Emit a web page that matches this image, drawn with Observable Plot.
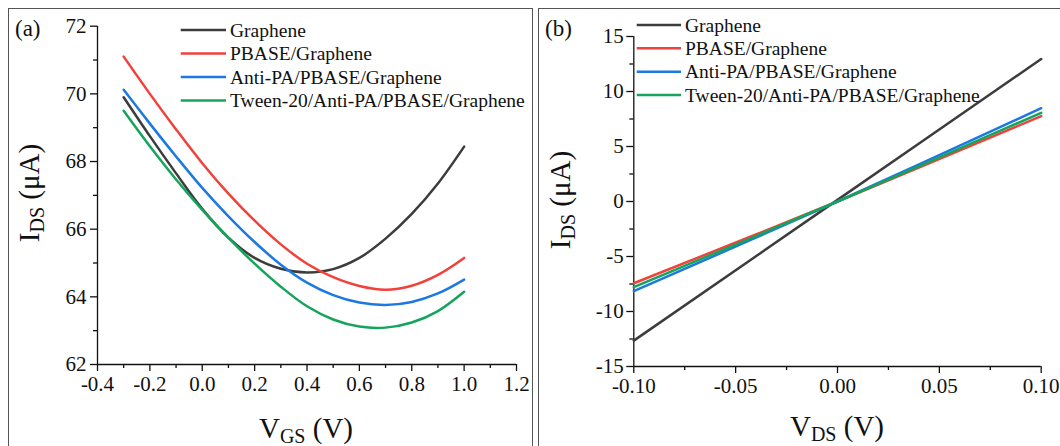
<!DOCTYPE html>
<html><head><meta charset="utf-8">
<script src="https://cdn.jsdelivr.net/npm/d3@7"></script>
<script src="https://cdn.jsdelivr.net/npm/@observablehq/plot@0.6"></script>
<style>
body{margin:0;background:#fff;width:1060px;height:446px;overflow:hidden;position:relative;}
.panel{position:absolute;top:0;width:530px;height:446px;}
.border{position:absolute;border:1.5px solid #555;box-sizing:border-box;}
.panel svg text{font-family:"Liberation Serif","Times New Roman",Times,serif;}
</style></head><body>
<div class="border" style="left:7.5px;top:8.25px;width:525px;height:460px"></div>
<div class="border" style="left:537.5px;top:8.25px;width:540px;height:460px"></div>
<div id="a" class="panel" style="left:0px"></div>
<div id="b" class="panel" style="left:530px"></div>
<script>
// ---- data ----
const seriesNames = ["Graphene", "PBASE/Graphene", "Anti-PA/PBASE/Graphene", "Tween-20/Anti-PA/PBASE/Graphene"];
const seriesColors = ["#3c3c3c", "#f2403b", "#1c79e2", "#14a45c"];

// panel (a): transfer curves, I_DS (µA) vs V_GS (V)
const vgs = [-0.3, -0.2, -0.1, 0.0, 0.1, 0.2, 0.3, 0.4, 0.5, 0.6, 0.7, 0.8, 0.9, 1.0];
const idsGrapheneA = [69.90, 68.75, 67.65, 66.60, 65.75, 65.15, 64.83, 64.72, 64.82, 65.15, 65.72, 66.45, 67.35, 68.44];
const idsPbaseA    = [71.10, 70.00, 68.95, 67.95, 67.05, 66.25, 65.55, 64.98, 64.58, 64.32, 64.21, 64.33, 64.65, 65.15];
const idsAntiA     = [70.12, 69.12, 68.15, 67.22, 66.38, 65.62, 64.95, 64.42, 64.05, 63.83, 63.76, 63.85, 64.10, 64.51];
const idsTweenA    = [69.50, 68.45, 67.47, 66.57, 65.74, 64.98, 64.30, 63.72, 63.33, 63.12, 63.09, 63.24, 63.58, 64.15];

// panel (b): output curves, I_DS (µA) vs V_DS (V)
const vds = [-0.1, 0.0, 0.1];
const idsGrapheneB = [-12.65, 0.15, 12.95];
const idsPbaseB    = [-7.43, 0.0, 7.76];
const idsAntiB     = [-8.15, 0.0, 8.48];
const idsTweenB    = [-7.79, 0.0, 8.06];

// ticks
const aXMajor = [-0.4, -0.2, 0.0, 0.2, 0.4, 0.6, 0.8, 1.0, 1.2];
const aXMinor = [-0.3, -0.1, 0.1, 0.3, 0.5, 0.7, 0.9, 1.1];
const aYMajor = [62, 64, 66, 68, 70, 72];
const aYMinor = [63, 65, 67, 69, 71];
const bXMajor = [-0.10, -0.05, 0.00, 0.05, 0.10];
const bXMinor = [-0.075, -0.025, 0.025, 0.075];
const bYMajor = [-15, -10, -5, 0, 5, 10, 15];
const bYMinor = [-12.5, -7.5, -2.5, 2.5, 7.5, 12.5];

// ---- build tables ----
function tidy(xs, ysList) {
  const out = [];
  ysList.forEach((ys, k) => ys.forEach((y, i) => out.push({series: seriesNames[k], x: xs[i], y})));
  return out;
}
const dataA = tidy(vgs, [idsGrapheneA, idsPbaseA, idsAntiA, idsTweenA]);
const dataB = tidy(vds, [idsGrapheneB, idsPbaseB, idsAntiB, idsTweenB]);

const FONT = '"Liberation Serif", "Times New Roman", Times, serif';
const INK = "#111";

function panel(opts) {
  const p = Plot.plot({
    width: 530, height: 446,
    marginLeft: opts.m[3], marginRight: opts.m[1], marginTop: opts.m[0], marginBottom: opts.m[2],
    style: {fontFamily: FONT, fontSize: "21px", color: INK, background: "transparent", overflow: "visible"},
    x: {domain: opts.xDomain},
    y: {domain: opts.yDomain},
    color: {domain: seriesNames, range: seriesColors},
    marks: [
      Plot.axisX({ticks: opts.xMajor, tickSize: 7, tickPadding: 5, tickFormat: opts.xFmt, label: null, fontSize: 21, fontFamily: FONT, strokeWidth: 1.3}),
      Plot.axisX({ticks: opts.xMinor, tickSize: 4, tickFormat: () => "", label: null, strokeWidth: 1.3}),
      Plot.axisY({ticks: opts.yMajor, tickSize: 7, tickPadding: opts.yPad, tickFormat: opts.yFmt, label: null, fontSize: 21, fontFamily: FONT, strokeWidth: 1.3}),
      Plot.axisY({ticks: opts.yMinor, tickSize: 4, tickFormat: () => "", label: null, strokeWidth: 1.3}),
      Plot.ruleX([opts.xDomain[0]], {stroke: INK, strokeWidth: 1.3}),
      Plot.ruleY([opts.yDomain[0]], {stroke: INK, strokeWidth: 1.3}),
      Plot.line(opts.data, {x: "x", y: "y", stroke: "series", strokeWidth: 2.5, curve: "catmull-rom"})
    ]
  });
  const svg = d3.select(p);
  // panel tag
  svg.append("text").attr("x", 15).attr("y", 36).attr("text-anchor", "start")
    .attr("font-family", FONT).attr("font-size", 23).attr("fill", INK).text(opts.tag);
  // x title
  const tx = svg.append("text").attr("x", opts.xt[0]).attr("y", opts.xt[1]).attr("text-anchor", "middle")
    .attr("font-family", FONT).attr("font-size", 29).attr("fill", INK);
  tx.append("tspan").text("V");
  tx.append("tspan").attr("font-size", 20).attr("dy", 5).text(opts.xSub);
  tx.append("tspan").attr("dy", -5).text(" (V)");
  // y title
  const ty = svg.append("text").attr("transform", `translate(${opts.yt[0]},${opts.yt[1]}) rotate(-90)`)
    .attr("text-anchor", "middle").attr("font-family", FONT).attr("font-size", 29).attr("fill", INK);
  ty.append("tspan").text("I");
  ty.append("tspan").attr("font-size", 20).attr("dy", 5).text("DS");
  ty.append("tspan").attr("dy", -5).text(" (\u03bcA)");
  // legend
  const lg = svg.append("g");
  seriesNames.forEach((name, k) => {
    const y = opts.lg.y0 + k * opts.lg.dy;
    lg.append("line").attr("x1", opts.lg.x1).attr("x2", opts.lg.x2).attr("y1", y).attr("y2", y)
      .attr("stroke", seriesColors[k]).attr("stroke-width", 2.5);
    lg.append("text").attr("x", opts.lg.tx).attr("y", y).attr("dy", "0.34em").attr("text-anchor", "start")
      .attr("font-family", FONT).attr("font-size", 19.5).attr("fill", INK).text(name);
  });
  return p;
}

document.getElementById("a").appendChild(panel({
  m: [25.7, 14, 82, 97],
  xDomain: [-0.4, 1.2], yDomain: [62, 72],
  xMajor: aXMajor, xMinor: aXMinor, yMajor: aYMajor, yMinor: aYMinor,
  xFmt: d => d.toFixed(1), yFmt: d => String(d), yPad: 4,
  data: dataA, tag: "(a)", xSub: "GS",
  xt: [306, 438], yt: [39, 193],
  lg: {x1: 180.7, x2: 226, tx: 230, y0: 30, dy: 23.5}
}));

document.getElementById("b").appendChild(panel({
  m: [36, 19.3, 80, 103.3],
  xDomain: [-0.1, 0.1], yDomain: [-15, 15],
  xMajor: bXMajor, xMinor: bXMinor, yMajor: bYMajor, yMinor: bYMinor,
  xFmt: d => d.toFixed(2), yFmt: d => String(d), yPad: 3,
  data: dataB, tag: "(b)", xSub: "DS",
  xt: [307, 436], yt: [39.5, 200],
  lg: {x1: 106.7, x2: 151, tx: 155, y0: 25, dy: 23.33}
}));
</script>
</body></html>
